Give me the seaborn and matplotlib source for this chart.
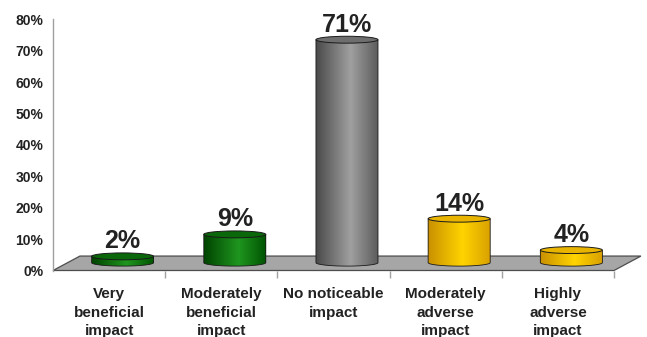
import numpy as np
import pandas as pd
import matplotlib
matplotlib.use("Agg")
import matplotlib.pyplot as plt
import seaborn as sns
from matplotlib.patches import Polygon, PathPatch, Ellipse
from matplotlib.path import Path
from matplotlib.colors import LinearSegmentedColormap

categories = ["Very\nbeneficial\nimpact", "Moderately\nbeneficial\nimpact",
              "No noticeable\nimpact", "Moderately\nadverse\nimpact",
              "Highly\nadverse\nimpact"]
values = [2, 9, 71, 14, 4]
value_labels = ["2%", "9%", "71%", "14%", "4%"]
y_ticks = [0, 10, 20, 30, 40, 50, 60, 70, 80]

# shading per bar: (side dark, highlight, right edge, top cap)
shades = [
    ("#004400", "#1f961f", "#005200", "#0a680a"),
    ("#004400", "#1f961f", "#005200", "#0a680a"),
    ("#4a4a4a", "#a0a0a0", "#5a5a5a", "#6e6e6e"),
    ("#c99000", "#ffd400", "#d9a000", "#e8b400"),
    ("#c99000", "#ffd400", "#d9a000", "#e8b400"),
]

sns.set_theme(style="white")
plt.rcParams["font.family"] = ["Liberation Sans", "DejaVu Sans"]
text_color = "#222222"

fig = plt.figure(figsize=(6.47, 3.37), dpi=100)
W, H = 647, 337
ax = fig.add_axes([53 / W, (H - 270.5) / H, (614 - 53) / W, (270.5 - 19.3) / H])

df = pd.DataFrame({"cat": categories, "val": values})
sns.barplot(data=df, x="cat", y="val", width=0.553, color="#888888",
            saturation=1, ax=ax, zorder=3)

ax.set_xlim(-0.5, 4.5)
ax.set_ylim(0, 80)

# depth of the floor plate and of the bar placement
depth_x, depth_y = 0.24, 4.6
base_y = depth_y / 2 + 0.2
cap_h = 2.2

floor = Polygon([(-0.5, 0), (4.5, 0), (4.5 + depth_x, depth_y), (-0.5 + depth_x, depth_y)],
                closed=True, facecolor="#a6a6a6", edgecolor="#4d4d4d", lw=0.9,
                zorder=1, clip_on=False)
ax.add_patch(floor)

t = np.linspace(np.pi, 2 * np.pi, 60)
for i, patch in enumerate(ax.patches[:len(values)]):
    dark, light, right, top = shades[i]
    w = patch.get_width()
    x0 = patch.get_x() + depth_x / 2
    h = patch.get_height()
    patch.set_x(x0)
    patch.set_y(base_y)
    patch.set_facecolor(dark)
    patch.set_edgecolor("none")
    x1 = x0 + w
    xc = x0 + w / 2
    y_top = base_y + h

    # outline of the cylinder body: sides plus curved lower rim
    arc_x = xc + (w / 2) * np.cos(t)
    arc_y = base_y + (cap_h / 2) * np.sin(t)
    verts = [(x0, y_top)] + list(zip(arc_x, arc_y)) + [(x1, y_top), (x0, y_top)]
    body = Path(verts, closed=True)
    body_patch = PathPatch(body, facecolor="none", edgecolor="none", transform=ax.transData)
    ax.add_patch(body_patch)

    cmap = LinearSegmentedColormap.from_list(
        f"cyl{i}", [(0, dark), (0.55, light), (1, right)])
    grad = np.linspace(0, 1, 200).reshape(1, -1)
    im = ax.imshow(grad, extent=[x0, x1, base_y - cap_h / 2, y_top], aspect="auto",
                   cmap=cmap, zorder=4, interpolation="bilinear")
    im.set_clip_path(body_patch)

    outline = PathPatch(Path(verts[:-1]), facecolor="none", edgecolor="#1a1a1a",
                        lw=0.6, zorder=5, transform=ax.transData)
    ax.add_patch(outline)

    cap = Ellipse((xc, y_top), w, cap_h, facecolor=top, edgecolor="#1a1a1a",
                  lw=0.7, zorder=6)
    ax.add_patch(cap)

    ax.text(xc, y_top + cap_h / 2 + 1.5, value_labels[i], ha="center", va="baseline",
            fontsize=18, fontweight="bold", color=text_color,
            family=["Liberation Sans Narrow", "Liberation Sans", "DejaVu Sans"], zorder=7)

# axes styling
for s in ["top", "right", "bottom"]:
    ax.spines[s].set_visible(False)
ax.spines["left"].set_color("#a0a0a0")
ax.spines["left"].set_linewidth(1.0)
ax.set_yticks(y_ticks)
ax.set_yticklabels([f"{v}%" for v in y_ticks])
ax.tick_params(axis="y", direction="out", length=4, width=1, color="#a0a0a0",
               labelsize=10, labelcolor=text_color, pad=3)
for lab in ax.get_yticklabels():
    lab.set_fontweight("bold")

ax.set_xticks(range(len(categories)))
ax.set_xticklabels(categories)
ax.tick_params(axis="x", which="major", length=0, pad=12, labelsize=11,
               labelcolor=text_color)
for lab in ax.get_xticklabels():
    lab.set_fontweight("bold")
    lab.set_linespacing(1.4)
ax.set_xticks([0.5, 1.5, 2.5, 3.5, 4.5], minor=True)
ax.tick_params(axis="x", which="minor", direction="out", length=5, width=1,
               color="#a0a0a0", bottom=True)
ax.set_xlabel("")
ax.set_ylabel("")
ax.grid(False)
ax.set_facecolor("none")
fig.patch.set_facecolor("white")

fig.savefig("out.png", dpi=100)
